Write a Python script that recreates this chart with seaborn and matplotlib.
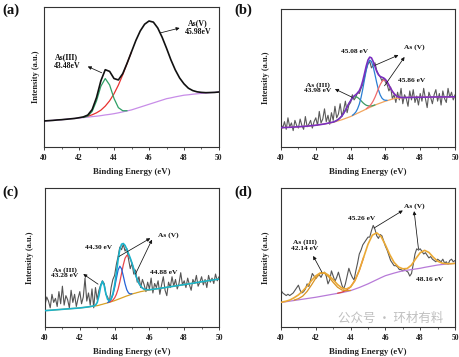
import numpy as np
import matplotlib
matplotlib.use('Agg')
import matplotlib.pyplot as plt
import seaborn as sns

# intensities in arbitrary units

# ---- (a) ----
A_X = np.linspace(40, 50, 41)
A_BG = [18.6, 18.8, 19.0, 19.3, 19.5, 19.8, 20.1, 20.4, 20.7, 21.0, 21.3, 21.7, 22.0, 22.4,
        22.9, 23.3, 23.8, 24.4, 25.1, 25.8, 26.5, 27.5, 28.5, 29.5, 30.5, 31.5, 32.5, 33.5,
        34.5, 35.1, 35.8, 36.4, 37.0, 37.3, 37.7, 38.0, 38.3, 38.5, 38.8, 39.0, 39.3]
A_ENV = [18.6, 18.8, 19.0, 19.3, 19.5, 19.8, 20.1, 20.4, 20.9, 21.5, 22.8, 26.7, 35.3, 47.3,
         55.2, 54.0, 48.9, 47.9, 52.4, 59.9, 68.0, 76.1, 82.9, 87.7, 90.0, 89.2, 85.0, 78.4,
         70.6, 62.3, 55.1, 49.3, 45.1, 42.0, 40.3, 39.4, 39.0, 38.8, 38.9, 39.0, 39.3]
A_III = [21.1, 22.1, 25.4, 32.9, 43.4, 48.9, 44.3, 34.7, 28.1, 25.9, 25.9]   # 42.25-44.75
A_V = [21.4, 22.0, 23.0, 24.4, 26.3, 29.2, 33.0, 38.0, 44.2, 51.6, 59.8, 68.0]  # 42.25-45.0

# ---- (b) ----
B_X = [40, 40.5, 41, 41.5, 42, 42.5] + list(np.linspace(43.0, 47.0, 41)) + [47.5, 48, 48.5, 49, 49.5, 50]
B_BG = [7.3, 7.6, 8.0, 8.5, 9.2, 10.2,
        11.5, 11.9, 12.3, 12.7, 13.1, 13.5, 14.0, 14.5, 15.0, 15.5, 16.0, 16.6, 17.3, 17.9,
        18.6, 19.2, 19.9, 20.5, 21.2, 21.8, 22.5, 23.1, 23.7, 24.3, 24.9, 25.5, 26.0, 26.5,
        27.0, 27.5, 28.0, 28.4, 28.8, 29.2, 29.6, 30.0, 30.2, 30.3, 30.5, 30.6, 30.8,
        31.0, 31.1, 31.2, 31.3, 31.3, 31.4]
B_ENV = [7.3, 7.6, 8.0, 8.5, 9.2, 10.2,
         11.7, 12.2, 12.9, 13.8, 15.0, 16.5, 18.5, 20.9, 23.5, 26.1, 28.3, 30.5, 32.0, 33.1,
         34.3, 36.2, 39.3, 43.9, 49.6, 55.5, 60.2, 62.4, 61.8, 58.9, 55.1, 51.3, 48.7, 47.3,
         46.7, 46.1, 45.0, 43.1, 40.6, 38.0, 35.7, 33.9, 32.5, 31.5, 31.1, 30.9, 30.8,
         31.0, 31.1, 31.2, 31.3, 31.3, 31.4]
B_III = [11.7, 12.2, 12.9, 13.8, 15.0, 16.5, 18.5, 20.9, 23.5, 26.1, 28.3, 30.2, 31.3,
         31.5, 30.9, 29.8, 28.4, 26.9, 25.7, 24.8, 24.4, 24.2, 24.3, 24.6, 25.1]   # 43.0-45.4
B_V1 = [16.9, 18.0, 19.5, 22.0, 25.6, 30.8, 37.5, 45.1, 52.2, 57.7, 60.1, 58.9, 54.7,
        48.8, 42.5, 36.9, 32.9, 30.4, 29.1, 28.7, 28.7]                          # 44.1-46.1
B_V2 = [22.1, 23.1, 24.3, 26.0, 28.2, 31.0, 34.3, 37.8, 40.9, 43.3, 44.5, 44.3, 42.8,
        40.6, 38.0, 35.7, 33.9, 32.5, 31.5, 31.1, 30.9]                          # 44.9-46.9
B_RAW = [10, 7, 12, 6, 15, 8, 11, 5, 13, 9,
         7, 14, 9, 6, 16, 8, 10, 13, 7, 12,
         15, 9, 20, 11, 14, 22, 12, 17, 10, 19,
         13, 24, 15, 18, 26, 16, 21, 28, 19, 25,
         27, 33, 29, 31, 35, 34, 38, 41, 47, 53,
         57, 59, 54, 56, 58, 52, 49, 47, 44, 46,
         43, 41, 36, 39, 30, 33, 27, 35, 29, 38,
         26, 33, 30, 24, 36, 29, 37, 27, 32, 25,
         34, 28, 38, 30, 23, 35, 31, 26, 33, 37,
         28, 34, 25, 36, 30, 27, 38, 31, 35, 29,
         33]

# ---- (c) ----
C_X = [40, 41, 42, 42.5] + list(np.linspace(42.8, 46.0, 33)) + [46.5, 47, 47.5, 48, 48.5, 49, 49.5, 50]
C_BG = [9.9, 10.9, 11.9, 12.7,
        13.3, 13.4, 13.6, 13.9, 14.3, 14.6, 15.0, 15.3, 15.7, 16.1, 16.5, 16.9, 17.3, 17.8,
        18.3, 18.8, 19.3, 19.8, 20.3, 20.8, 21.2, 21.7, 22.2, 22.6, 22.9, 23.3, 23.6, 24.0,
        24.2, 24.5, 24.7, 25.0, 25.2,
        26.2, 27.2, 28.2, 29.2, 30.2, 31.3, 32.3, 33.3]
C_ENV = [9.9, 10.9, 11.9, 12.7,
         13.4, 13.9, 15.9, 20.9, 27.9, 31.6, 28.6, 22.3, 18.2, 17.3, 18.7, 22.3, 28.8, 37.7,
         47.4, 55.2, 59.1, 59.6, 58.2, 55.4, 52.1, 48.8, 45.0, 40.8, 36.6, 33.0, 30.1, 28.1,
         26.6, 25.8, 25.4, 25.4, 25.4,
         26.2, 27.2, 28.2, 29.2, 30.2, 31.3, 32.3, 33.3]
C_V1 = [15.9, 16.7, 18.3, 21.5, 26.8, 33.6, 39.9, 42.8, 40.9, 35.6, 29.8, 25.4, 23.0,
        22.3, 22.4]                                                              # 43.6-45.0
C_V2 = [16.2, 16.8, 17.7, 19.3, 21.9, 25.8, 31.2, 37.5, 43.8, 48.7, 50.8, 50.3, 48.2,
        44.8, 40.8, 36.6, 33.0, 30.1, 28.1, 26.6, 25.8, 25.4, 25.4, 25.4]        # 43.7-46.0
C_RAW = [14, 20, 17, 12, 22, 16, 19, 13, 24, 15,
         28, 14, 21, 18, 12, 25, 16, 22, 13, 19,
         24, 15, 20, 34, 17, 23, 14, 26, 12, 27,
         18, 25, 29, 32, 30, 22, 20, 16, 27, 33,
         36, 44, 50, 57, 55, 59, 54, 56, 48, 41,
         45, 37, 40, 31, 35, 27, 33, 29, 24, 31,
         26, 34, 23, 30, 27, 32, 22, 29, 35, 25,
         21, 31, 27, 35, 28, 33, 26, 30, 38, 29,
         32, 27, 34, 29, 25, 33, 30, 36, 28, 31,
         35, 29, 33, 27, 36, 31, 34, 30, 37, 32,
         35]

# ---- (d) ----
D_X = np.linspace(40, 50, 41)
D_BG = [12.8, 13.2, 13.7, 14.2, 14.7, 15.2, 15.7, 16.2, 16.7, 17.3, 17.9, 18.5, 19.1, 19.7,
        20.3, 21.0, 21.8, 23.0, 24.2, 25.6, 27.0, 28.6, 30.2, 31.8, 33.3, 34.3, 35.3, 36.2,
        37.0, 37.5, 38.0, 38.5, 39.0, 39.7, 40.3, 40.9, 41.5, 41.9, 42.2, 42.5, 42.8]
D_ENV = [12.8, 13.5, 14.5, 16.3, 18.5, 21.5, 25.2, 29.5, 33.2, 35.4, 35.6, 33.5, 30.2, 26.5,
         23.8, 23.0, 24.6, 29.5, 37.5, 47.5, 57.5, 64.5, 66.3, 63.5, 57.0, 49.5, 43.5, 40.0,
         38.6, 38.8, 41.5, 46.5, 51.0, 52.8, 51.2, 47.5, 44.5, 43.0, 42.5, 42.5, 42.8]
D_III = [14.5, 15.6, 17.6, 21.2, 26.1, 31.4, 35.0, 35.3, 32.3, 28.1, 24.4, 22.3, 21.7, 22.0]  # 40.75-44.0
D_V = [19.8, 20.6, 22.0, 24.7, 29.7, 37.4, 47.4]                                            # 43.25-44.75
D_RAW = [22, 20, 19, 18, 19, 18, 19, 20, 22, 24,
         26, 22, 20, 21, 23, 27, 25, 30, 35, 33,
         31, 33, 34, 32, 35, 36, 33, 27, 30, 37,
         33, 29, 32, 36, 31, 26, 23, 27, 33, 39,
         35, 32, 30, 37, 43, 50, 53, 57, 59, 61,
         63, 63, 68, 72, 69, 64, 62, 65, 64, 60,
         56, 53, 49, 45, 43, 41, 41, 40, 38, 38,
         37, 38, 37, 36, 33, 35, 42, 50, 54, 53,
         54, 52, 50, 51, 49, 47, 48, 46, 45, 44,
         46, 45, 44, 46, 43, 44, 42, 45, 46, 44,
         45]
RAW_X = np.linspace(40, 50, 101)

X_TICKS = [40, 42, 44, 46, 48, 50]

sns.set_style("ticks")
plt.rcParams['font.family'] = ['Liberation Serif', 'DejaVu Serif']

fig = plt.figure(figsize=(4.6, 3.57), dpi=100)
W, H = 460, 357


def make_ax(left, top, right, bottom):
    return fig.add_axes([left / W, 1 - bottom / H, (right - left) / W, (bottom - top) / H])


def line(ax, x, y, color, lw=0.9, z=2):
    sns.lineplot(x=np.asarray(x, dtype=float), y=y, ax=ax, color=color, lw=lw,
                 zorder=z, sort=False, estimator=None)


def style(ax, ylim, ylab_pad):
    ax.set_xlim(40, 50)
    ax.set_ylim(*ylim)
    ax.set_xticks(X_TICKS)
    ax.set_xticks(np.arange(41, 50, 2), minor=True)
    ax.set_yticks([])
    ax.tick_params(axis='x', direction='out', length=2.5, width=0.6, labelsize=5.5,
                   pad=2.5, colors='#222')
    ax.tick_params(axis='x', which='minor', direction='out', length=1.6, width=0.5)
    for lab in ax.get_xticklabels():
        lab.set_fontweight('bold')
    ax.set_xlabel('Binding Energy (eV)', fontsize=6.3, fontweight='bold', labelpad=4.5, color='#222')
    ax.set_ylabel('Intensity (a.u.)', fontsize=6, fontweight='bold', labelpad=ylab_pad, color='#222')
    for s in ax.spines.values():
        s.set_linewidth(0.8)
        s.set_color('#333333')


def note(ax, x, y, s, size=5.3):
    ax.text(x, y, s, ha='center', va='center', fontsize=size, fontweight='bold',
            linespacing=1.15, color='#111', zorder=5)


def arrow(ax, head, tail):
    ax.annotate('', xy=head, xytext=tail, zorder=5,
                arrowprops=dict(arrowstyle='-|>', color='#111', lw=0.55,
                                mutation_scale=5, shrinkA=0, shrinkB=0))


# (a)
ax = make_ax(44, 7, 219, 147)
line(ax, A_X, A_BG, '#c88de8')
line(ax, np.linspace(42.25, 45.0, len(A_V)), A_V, '#e8312f')
line(ax, np.linspace(42.25, 44.75, len(A_III)), A_III, '#2fa066')
line(ax, A_X, A_ENV, '#111111', lw=1.2, z=3)
style(ax, (0, 100), 3)
note(ax, 41.3, 61, 'As(III)\n43.48eV', size=5.6)
arrow(ax, (42.5, 57.5), (43.3, 53))
note(ax, 48.8, 85.5, 'As(V)\n45.98eV', size=5.6)
arrow(ax, (47.75, 85), (46.65, 81.5))

# (b)
ax = make_ax(281, 9, 455, 147)
line(ax, RAW_X, B_RAW, '#5a5a5a', lw=0.8, z=1)
line(ax, B_X, B_BG, '#f2a55e')
line(ax, np.linspace(43.0, 45.4, len(B_III)), B_III, '#3c9a64')
line(ax, np.linspace(44.1, 46.1, len(B_V1)), B_V1, '#2a7fd4')
line(ax, np.linspace(44.9, 46.9, len(B_V2)), B_V2, '#f06a6a')
line(ax, B_X, B_ENV, '#7a2fc0', lw=1.2, z=3)
style(ax, (-7.8, 100), 8)
note(ax, 44.2, 66.5, '45.08 eV')
note(ax, 47.65, 70.5, 'As (V)')
arrow(ax, (46.75, 64), (45.4, 56))
arrow(ax, (47.1, 62.5), (45.95, 40))
note(ax, 47.5, 44.5, '45.86 eV')
note(ax, 42.1, 38.5, 'As (III)\n43.98 eV')
arrow(ax, (43.1, 37.5), (44.1, 31))

# (c)
ax = make_ax(45, 188, 219, 327)
line(ax, RAW_X, C_RAW, '#555555', lw=0.8, z=1)
line(ax, C_X, C_BG, '#d9a125')
line(ax, np.linspace(43.7, 46.0, len(C_V2)), C_V2, '#e8474a')
line(ax, np.linspace(43.6, 45.0, len(C_V1)), C_V1, '#2563d6')
line(ax, C_X, C_ENV, '#19b3cc', lw=1.2, z=3)
style(ax, (-2.2, 100.7), 8)
note(ax, 41.15, 38, 'As (III)\n43.28 eV')
arrow(ax, (42.2, 37), (43.05, 29.5))
note(ax, 43.05, 56.5, '44.30 eV')
note(ax, 47.1, 66, 'As (V)')
arrow(ax, (46.05, 63.5), (44.25, 50))
arrow(ax, (46.15, 62.5), (45.2, 37))
note(ax, 46.8, 38.5, '44.88 eV')

# (d)
ax = make_ax(281, 188, 455, 327)
line(ax, RAW_X, D_RAW, '#555555', lw=0.8, z=1)
line(ax, D_X, D_BG, '#b77ad8')
line(ax, np.linspace(43.25, 44.75, len(D_V)), D_V, '#e04a3a')
line(ax, np.linspace(40.75, 44.0, len(D_III)), D_III, '#d99322')
line(ax, D_X, D_ENV, '#eaa935', lw=1.2, z=3)
style(ax, (-6.2, 100.8), 8)
note(ax, 41.35, 57, 'As (III)\n42.14 eV')
arrow(ax, (41.85, 48.5), (42.35, 36))
note(ax, 44.65, 77, '45.26 eV')
note(ax, 47.65, 87, 'As (V)')
arrow(ax, (47.0, 83.5), (45.35, 70))
arrow(ax, (47.65, 83), (47.9, 54))
note(ax, 48.55, 30, '48.16 eV')

for lbl, px, py in [('(a)', 11, 10), ('(b)', 243, 10), ('(c)', 11, 192), ('(d)', 243, 192)]:
    fig.text(px / W, 1 - py / H, lbl, ha='center', va='center', fontsize=10.5,
             fontweight='bold', color='#111')

# watermark, lifted a little so it sits above the tick labels
fig.text(391 / W, 1 - 318 / H, '公众号 · 环材有料', ha='center', va='center', fontsize=9,
         color='#b4b4b4', alpha=0.85, family=['Noto Sans CJK SC', 'DejaVu Sans'])

fig.savefig('out.png', dpi=100)
